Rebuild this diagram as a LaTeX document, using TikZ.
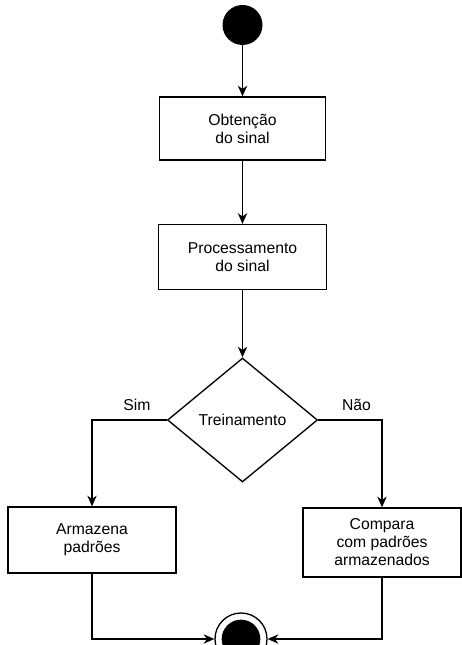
\documentclass[tikz,border=0pt]{standalone}
\usepackage{fontspec}
\setmainfont{Liberation Sans}
\usetikzlibrary{shapes.geometric,arrows.meta}

\tikzstyle{texto} = [font=\fontsize{11.8}{13.5}\selectfont]
\tikzstyle{etapa} = [draw,rectangle,line width=1pt,align=center,inner sep=0pt,texto]
\tikzstyle{decisao} = [draw,diamond,line width=1pt,minimum width=112.5pt,minimum height=93pt,inner sep=0pt,texto]
\tikzstyle{inicio} = [circle,fill=black,minimum size=30pt,inner sep=0pt]
\tikzstyle{final} = [circle,draw,fill=white,line width=1pt,minimum size=39pt,inner sep=0pt]
\tikzstyle{seta} = [draw,line width=1pt,-{Stealth[length=8pt,width=7pt,inset=2.5pt]}]

\begin{document}
\begin{tikzpicture}[x=0.75pt,y=-0.75pt]
      \useasboundingbox (0,0) rectangle (461,645);
      %% estados inicial e final
      \node[inicio] (ini) at (242.5,25) {};
      \node[final] (fim) at (241,639) {};
      \node[inicio,minimum size=29pt] (fimin) at (fim) {};

      %% etapas
      \foreach \nome/\rotulo/\x/\y/\w/\h in {
        obt/{Obtenção\\do sinal}/242.5/128.5/124.5pt/47.25pt,
        proc/{Processamento\\do sinal}/242.5/257/126pt/48.75pt,
        arm/{Armazena\\padrões}/92/540/126pt/49.5pt,
        cmp/{Compara\\com padrões\\armazenados}/382/542.5/118.5pt/51.75pt}
      {
        \node[etapa,minimum width=\w,minimum height=\h] (\nome) at (\x,\y) {\rotulo};
      }
      \node[decisao] (trein) at (242.5,420) {Treinamento};

      % conexoes
      \path[seta] (ini) -- (obt);
      \path[seta] (obt) -- (proc);
      \path[seta] (proc) -- (trein);
      \path[seta] (trein.west) -| node[pos=0.2,above=3pt,texto] {Sim} (arm);
      \path[seta] (trein.east) -| node[pos=0.3,above=3pt,texto] {Não} (cmp);
      \path[seta] (arm) |- (fim);
      \path[seta] (cmp) |- (fim);
\end{tikzpicture}
\end{document}
